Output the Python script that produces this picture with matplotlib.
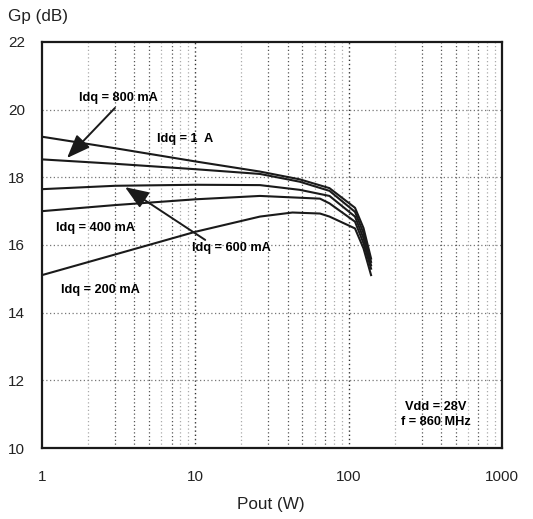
import matplotlib
matplotlib.use("Agg")
import matplotlib.pyplot as plt
from matplotlib.ticker import FixedLocator, NullFormatter

plt.rcParams['font.family'] = ['Liberation Sans', 'DejaVu Sans']

pout_1a = [1, 3, 10, 26.4, 48, 75, 110, 125, 140]
gp_1a = [19.2, 18.86, 18.47, 18.17, 17.94, 17.68, 17.1, 16.5, 15.6]

pout_800 = [1, 3, 10, 26.4, 48, 75, 110, 125, 140]
gp_800 = [18.53, 18.4, 18.24, 18.1, 17.87, 17.6, 16.98, 16.35, 15.5]

pout_600 = [1, 3, 10, 26.4, 48, 75, 110, 125, 140]
gp_600 = [17.65, 17.75, 17.78, 17.77, 17.63, 17.45, 16.84, 16.2, 15.4]

pout_400 = [1, 3, 10, 26.4, 65, 75, 110, 125, 140]
gp_400 = [17.0, 17.18, 17.35, 17.45, 17.37, 17.23, 16.69, 16.05, 15.3]

pout_200 = [1, 3, 10, 26.4, 43, 65, 75, 110, 125, 140]
gp_200 = [15.11, 15.72, 16.39, 16.84, 16.96, 16.93, 16.84, 16.49, 15.9, 15.11]

x_ticks = [1, 10, 100, 1000]
x_tick_labels = ["1", "10", "100", "1000"]
y_ticks = [10, 12, 14, 16, 18, 20, 22]

fig = plt.figure(figsize=(5.33, 5.19), dpi=100)
ax = fig.add_axes([0.0788, 0.1368, 0.8630, 0.7823])
ax.set_xscale('log')
ax.set_xlim(1, 1000)
ax.set_ylim(10, 22)

light = {2, 6, 8, 9}
for d in (1, 10, 100):
    for m in range(2, 10):
        c = '#aaaaaa' if m in light else '#555555'
        ax.axvline(m * d, color=c, linestyle=(0, (1, 2)), linewidth=0.9, zorder=1)
for v in [10, 100]:
    ax.axvline(v, color='#333333', linestyle=(0, (1, 2)), linewidth=1.0, zorder=1)
for v in y_ticks[1:-1]:
    ax.axhline(v, color='#777777', linestyle=(0, (1, 2)), linewidth=0.9, zorder=1)

for px, py in [(pout_1a, gp_1a), (pout_800, gp_800), (pout_600, gp_600),
               (pout_400, gp_400), (pout_200, gp_200)]:
    ax.plot(px, py, color='#1a1a1a', linewidth=1.5, zorder=3)

ax.xaxis.set_major_locator(FixedLocator(x_ticks))
ax.xaxis.set_minor_locator(FixedLocator([]))
ax.xaxis.set_minor_formatter(NullFormatter())
ax.set_xticklabels(x_tick_labels)
ax.set_yticks(y_ticks)
ax.tick_params(axis='both', length=0, labelsize=11, colors='#222222')
ax.tick_params(axis='x', pad=16)
ax.tick_params(axis='y', pad=12)
for s in ax.spines.values():
    s.set_linewidth(1.6)
    s.set_color('#1a1a1a')

fs = 9.2
arrow = dict(arrowstyle='-|>,head_length=0.9,head_width=0.35', color='#1a1a1a',
             lw=1.4, mutation_scale=16, shrinkA=0, shrinkB=0)
ax.text(3.13, 20.34, "Idq = 800 mA", fontsize=fs, fontweight='bold', ha='center', va='center')
ax.annotate("", xy=(1.456, 18.57), xytext=(2.99, 20.05), arrowprops=arrow)
ax.text(8.57, 19.13, "Idq = 1  A", fontsize=fs, fontweight='bold', ha='center', va='center')
ax.text(2.22, 16.50, "Idq = 400 mA", fontsize=fs, fontweight='bold', ha='center', va='center')
ax.text(17.3, 15.91, "Idq = 600 mA", fontsize=fs, fontweight='bold', ha='center', va='center')
ax.annotate("", xy=(3.48, 17.71), xytext=(11.6, 16.15), arrowprops=arrow)
ax.text(2.39, 14.67, "Idq = 200 mA", fontsize=fs, fontweight='bold', ha='center', va='center')
ax.text(371.5, 11.21, "Vdd = 28V", fontsize=fs, fontweight='bold', ha='center', va='center')
ax.text(371.5, 10.77, "f = 860 MHz", fontsize=fs, fontweight='bold', ha='center', va='center')

fig.text(8 / 533, 1 - 16 / 519, "Gp (dB)", fontsize=12.3, ha='left', va='center', color='#222222')
fig.text(271 / 533, 1 - 505 / 519, "Pout (W)", fontsize=12.3, ha='center', va='center', color='#222222')

fig.savefig("out.png", dpi=100)
